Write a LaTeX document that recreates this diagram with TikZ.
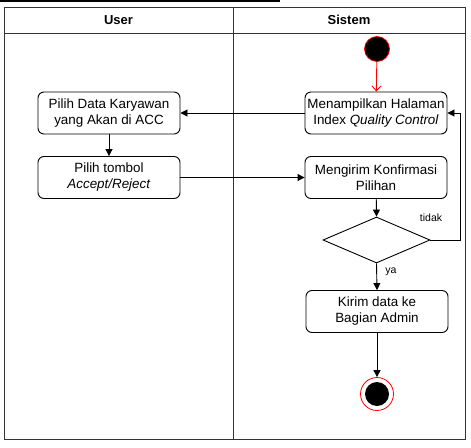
\documentclass[tikz,border=0pt]{standalone}
\usepackage{fontspec}
\setmainfont{Liberation Sans}
\usetikzlibrary{arrows.meta,shapes.geometric}
\begin{document}
\begin{tikzpicture}[x=1pt,y=-1pt,
  act/.style={draw,rounded corners=6pt,line width=0.9pt,minimum width=142pt,minimum height=42pt,align=center,font=\fontsize{13.4}{16}\selectfont,inner sep=1pt},
  flow/.style={draw,line width=0.9pt,-{Triangle[length=7pt,width=7pt]}},
  lane/.style={draw,line width=1pt,black!80}]
\useasboundingbox (0,0) rectangle (471,447);
\draw[line width=1.5pt] (0,1) -- (280,1);
% swimlanes
\draw[lane] (4,7) rectangle (465,439);
\draw[lane] (4,33) -- (465,33);
\draw[lane] (233,7) -- (233,439);
\node[font=\bfseries\fontsize{13}{15}\selectfont] (hu) at (118.5,20) {User};
\node[font=\bfseries\fontsize{13}{15}\selectfont] (hs) at (349,20) {Sistem};
% nodes
\node[circle,fill=black,draw=red,line width=0.8pt,minimum size=25pt,inner sep=0pt] (start) at (377,49) {};
\node[act] (tampil) at (376,113) {Menampilkan Halaman\\Index \textit{Quality Control}};
\node[act] (pilihdata) at (109,113) {Pilih Data Karyawan\\yang Akan di ACC};
\node[act] (tombol) at (109,177.5) {Pilih tombol\\\textit{Accept/Reject}};
\node[act] (kirimkonf) at (376,177.5) {Mengirim Konfirmasi\\Pilihan};
\node[diamond,draw,line width=0.9pt,minimum width=107pt,minimum height=46pt,inner sep=0pt,aspect=2.3] (dec) at (376.5,240) {};
\node[act] (kirim) at (377,311.5) {Kirim data ke\\Bagian Admin};
\node[circle,draw=red,line width=0.8pt,minimum size=33pt,inner sep=0pt] (end) at (377,394) {};
\node[circle,fill=black,minimum size=24pt,inner sep=0pt] (endin) at (377,394) {};
\coordinate (c1) at (460,240);
\coordinate (c2) at (460,113);
% edges
\draw[flow,draw=red,-{Straight Barb[length=5pt,width=9pt]},color=red] (start) -- (tampil);
\draw[flow] (tampil) -- (pilihdata);
\draw[flow] (pilihdata) -- (tombol);
\draw[flow] (tombol) -- (kirimkonf);
\draw[flow] (kirimkonf) -- (dec.north);
\draw[flow] (dec.east) -- (c1) -- (c2) -- (tampil.east);
\draw[flow] (dec.south) -- (kirim.north);
\draw[flow] (kirim) -- (end.north);
\node[font=\fontsize{10.5}{12}\selectfont] (ltidak) at (431,218) {tidak};
\node[font=\fontsize{10.5}{12}\selectfont] (lya) at (391,272) {ya};
\end{tikzpicture}
\end{document}
